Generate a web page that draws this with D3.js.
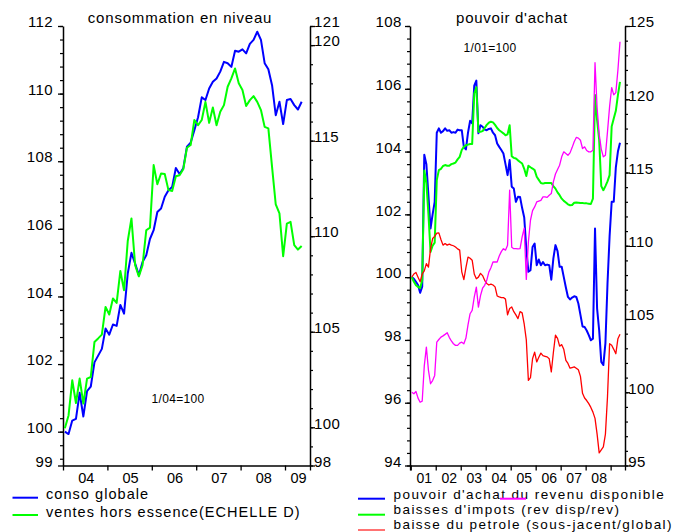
<!DOCTYPE html>
<html><head><meta charset="utf-8">
<script src="https://cdn.jsdelivr.net/npm/d3@7"></script>
<style>
body{margin:0;background:#fff;overflow:hidden;}
svg text{font-family:"Liberation Sans",Arial,sans-serif;fill:#000;}
</style></head><body>
<svg id="c" width="686" height="532"></svg>
<script>
// ---------- DATA ----------
// Left panel: monthly, Jan 2004 - May 2009
const leftStartYear = 2004;
const consoGlobale = [
 100.0, 99.93, 100.33, 100.38, 101.15, 100.45, 101.2, 101.33, 102.05, 102.25,
 102.45, 103.05, 102.87, 103.17, 103.13, 103.75, 103.49, 104.68, 105.29, 104.97,
 104.63, 105.02, 105.22, 105.7, 105.96, 106.5, 106.6, 106.95, 107.14, 107.24,
 107.8, 107.62, 107.79, 108.43, 108.55, 108.92, 109.3, 109.89, 109.81, 110.15,
 110.35, 110.45, 110.65, 110.94, 110.9, 110.79, 111.27, 111.24, 111.31, 111.19,
 111.47, 111.59, 111.83, 111.59, 110.9, 110.72, 110.25, 109.36, 109.76, 109.1,
 109.81, 109.84, 109.66, 109.53, 109.76];
const ventesHorsEssence = [
 99.95, 100.62, 102.46, 101.27, 102.55, 101.24, 102.55, 102.63, 104.46, 104.65,
 104.85, 106.3, 105.9, 106.74, 106.51, 108.18, 107.17, 109.75, 110.93, 108.48,
 107.9, 108.48, 110.31, 110.45, 113.72, 112.72, 113.28, 113.25, 112.41, 112.37,
 113.14, 113.19, 113.5, 114.63, 114.77, 116.08, 115.81, 116.08, 117.03, 115.93,
 116.74, 115.81, 116.51, 116.86, 117.82, 118.26, 118.78, 118.0, 117.65, 116.81,
 117.12, 117.33, 117.03, 116.6, 115.72, 115.64, 113.63, 111.66, 111.19, 108.95,
 110.66, 110.75, 109.53, 109.3, 109.49];

// Right panel: monthly, Jan 2001 - May 2009
const rightStartYear = 2001;
const pouvoirAchat = [
 100.0, 99.95, 99.85, 99.75, 99.5, 99.7, 103.9, 103.6, 102.6, 101.55,
 102.0, 102.4, 104.6, 104.74, 104.6, 104.65, 104.74, 104.66, 104.68, 104.6,
 104.62, 104.6, 104.7, 104.68, 104.68, 104.15, 104.07, 104.6, 104.98, 104.9,
 106.1, 106.26, 104.58, 104.84, 104.79, 104.7, 104.68, 104.72, 104.74, 104.6,
 104.52, 104.26, 104.15, 104.05, 103.94, 103.6, 103.25, 103.73, 102.88, 102.82,
 102.4, 102.56, 102.55, 102.2, 101.9, 100.91, 100.17, 100.22, 100.96, 101.07,
 100.38, 100.56, 100.38, 100.48, 100.38, 100.4, 100.38, 99.92, 100.6, 101.02,
 100.83, 100.33, 100.33, 100.0, 99.67, 99.37, 99.29, 99.35, 99.39, 99.37,
 99.16, 98.8, 98.43, 98.41, 98.3, 98.15, 97.99, 98.04, 101.55, 99.0,
 98.3, 97.3, 97.2, 97.9, 99.8, 101.3, 102.4, 102.4, 103.5, 104.0,
 104.28];
const baissesImpots = [
 100.0, 99.85, 99.74, 99.69, 99.65, 99.9, 103.4, 103.0, 102.0, 100.8,
 101.0, 101.1, 103.09, 103.41, 103.45, 103.54, 103.57, 103.55, 103.55, 103.6,
 103.62, 103.65, 103.75, 103.83, 104.05, 104.15, 104.2, 104.22, 104.24, 104.24,
 105.85, 106.05, 104.63, 104.63, 104.65, 104.75, 104.85, 104.92, 104.95, 104.93,
 104.85, 104.75, 104.68, 104.63, 104.58, 104.52, 104.55, 104.84, 103.85, 103.8,
 103.78, 103.72, 103.67, 103.62, 103.45, 103.22, 103.55, 103.5, 103.46, 103.41,
 103.2, 103.1, 103.0, 102.98, 103.0, 103.0, 103.0, 103.0, 102.9, 102.82,
 102.7, 102.61, 102.5, 102.43, 102.38, 102.32, 102.29, 102.3, 102.37, 102.38,
 102.37, 102.36, 102.36, 102.35, 102.35, 102.34, 102.33, 102.5, 105.8, 105.0,
 104.37, 102.9, 102.77, 102.9, 103.05, 103.25, 104.8, 105.05, 105.3, 105.8,
 106.22];
const baissePetrole = [
 100.0, 100.1, 100.15, 100.0, 99.85, 100.1, 100.2, 100.43, 100.32, 100.9,
 101.23, 101.3, 101.4, 101.41, 101.2, 101.02, 101.07, 101.02, 101.05, 101.02,
 101.0, 100.96, 100.9, 100.86, 100.17, 99.92, 100.3, 100.64, 100.6, 100.54,
 100.1, 99.95, 100.0, 100.12, 100.05, 99.9, 99.8, 99.75, 99.78, 99.75,
 99.69, 99.4, 99.37, 99.35, 99.35, 99.3, 98.8, 99.0, 99.05, 98.9,
 98.8, 98.68, 98.9, 98.86, 98.5, 98.0, 96.71, 96.8, 97.4, 97.61,
 97.3, 97.45, 97.58, 97.5, 97.48, 97.46, 97.4, 96.98, 97.6, 98.15,
 98.05, 97.8, 97.85, 97.7, 97.35, 97.25, 97.1, 97.12, 97.14, 97.1,
 97.05, 96.84, 96.3, 96.15, 96.07, 95.97, 95.85, 95.7, 95.5, 95.0,
 94.4, 94.5, 94.59, 95.0, 96.2, 97.88, 97.83, 97.7, 97.56, 98.04,
 98.18];
const revenuDisponible = [
 100.0, 99.9, 100.05, 99.6, 99.32, 99.39, 101.8, 103.08, 101.5, 100.58,
 100.8, 101.15, 103.42, 103.6, 103.76, 103.85, 103.95, 104.06, 103.75, 103.5,
 103.31, 103.2, 103.2, 103.35, 103.42, 103.31, 103.7, 104.6, 105.36, 105.59,
 106.5, 107.18, 105.81, 106.6, 107.1, 107.3, 107.64, 108.2, 108.5, 108.89,
 108.9, 108.89, 109.3, 109.6, 109.8, 109.7, 110.03, 113.79, 109.9, 109.8,
 109.8, 109.78, 109.8, 110.6, 111.2, 107.7, 110.26, 111.74, 112.4, 112.65,
 112.99, 113.05, 113.1, 113.33, 113.33, 113.3, 113.45, 113.56, 114.36, 114.9,
 115.2, 115.5, 116.07, 116.41, 116.3, 116.18, 116.34, 116.7, 117.1, 117.39,
 117.35, 117.2, 116.64, 116.75, 116.5, 116.41, 116.41, 116.52, 122.49, 119.4,
 117.6, 116.6, 116.07, 116.18, 117.8, 119.5, 120.8, 120.3, 120.45, 122.0,
 123.93];

// Tick labels
const leftYearLabels = ["04", "05", "06", "07", "08", "09"];
const rightYearLabels = ["01", "02", "03", "04", "05", "06", "07", "08"];
const leftLeftTicks = [112, 110, 108, 106, 104, 102, 100, 99];
const leftRightTicks = [121, 120, 115, 110, 105, 100, 98];
const rightLeftTicks = [108, 106, 104, 102, 100, 98, 96, 94];
const rightRightTicks = [125, 120, 115, 110, 105, 100, 95];

// ---------- DRAWING ----------
const FONT = "'Liberation Sans', Arial, sans-serif";
const svg = d3.select("#c");

const xL = d3.scaleLinear().domain([2004, 2009.563]).range([63, 310]);
const yLL = d3.scaleLinear().domain([99, 112]).range([465.5, 26]);
const yLR = d3.scaleLinear().domain([98, 121]).range([465.5, 26]);

const xR = d3.scaleLinear().domain([2000.97, 2009.575]).range([410, 625]);
const yRL = d3.scaleLinear().domain([94, 108]).range([465.5, 26]);
const yRR = d3.scaleLinear().domain([95, 125]).range([465.5, 26]);

function yAxis(scale, x, side, majors, minorStep, padding) {
  const mk = side === "left" ? d3.axisLeft : d3.axisRight;
  const [d0, d1] = scale.domain();
  const minors = [];
  for (let v = d1; v >= d0 - 1e-9; v -= minorStep) minors.push(+v.toFixed(4));
  const gm = svg.append("g").attr("transform", `translate(${x},0)`)
    .call(mk(scale).tickValues(minors).tickSize(3).tickSizeOuter(0).tickFormat(""));
  gm.select(".domain").remove();
  gm.selectAll("line").attr("stroke-width", 1.2);
  const g = svg.append("g").attr("transform", `translate(${x},0)`)
    .call(mk(scale).tickValues(majors).tickSize(5).tickSizeOuter(0).tickPadding(padding).tickFormat(d3.format("d")));
  g.attr("font-size", 15).attr("font-family", FONT);
  g.select(".domain").attr("stroke-width", 1.5);
  g.selectAll("line").attr("stroke-width", 1.3);
  g.selectAll("text").attr("dy", "0.05em").attr("letter-spacing", "0.4px");
}

function xAxis(scale, y, bounds, labelBounds, labels, fs) {
  const g = svg.append("g").attr("transform", `translate(0,${y})`)
    .call(d3.axisBottom(scale).tickValues(bounds).tickSize(5).tickSizeOuter(0).tickFormat(""));
  g.select(".domain").attr("stroke-width", 1.5);
  g.selectAll("line").attr("stroke-width", 1.3);
  const mids = d3.pairs(labelBounds).map(p => (p[0] + p[1]) / 2);
  svg.append("g").selectAll("text").data(labels).join("text")
    .attr("x", (d, i) => scale(mids[i]) + 1)
    .attr("y", 482.5)
    .attr("text-anchor", "middle")
    .attr("font-size", fs)
    .text(d => d);
}

function series(data, start, xs, ys, color, width) {
  const line = d3.line()
    .x((d, i) => xs(start + (i + 0.5) / 12))
    .y(d => ys(d));
  svg.append("path").datum(data)
    .attr("d", line).attr("fill", "none")
    .attr("stroke", color).attr("stroke-width", width)
    .attr("stroke-linejoin", "round");
}

// ---- Left panel ----
yAxis(yLL, 63, "left", leftLeftTicks, 0.4, 5);
yAxis(yLR, 310, "right", leftRightTicks, 1, -1);
const lb = d3.range(2004, 2010).concat([xL.domain()[1]]);
xAxis(xL, 465.5, lb, lb, leftYearLabels, 14.5);

series(consoGlobale, leftStartYear, xL, yLL, "#0000ff", 2);
series(ventesHorsEssence, leftStartYear, xL, yLR, "#00ff00", 2);

svg.append("text").attr("x", 180).attr("y", 23).attr("text-anchor", "middle")
  .attr("font-size", 15).attr("letter-spacing", "0.8px").text("consommation en niveau");
svg.append("text").attr("x", 178).attr("y", 402.5).attr("text-anchor", "middle")
  .attr("font-size", 12).attr("letter-spacing", "0.3px").text("1/04=100");

// ---- Right panel ----
yAxis(yRL, 410, "left", rightLeftTicks, 0.4, 3.3);
yAxis(yRR, 625, "right", rightRightTicks, 1, -1.7);
const rb = d3.range(2001, 2010);
xAxis(xR, 465.5, [xR.domain()[0]].concat(rb, [xR.domain()[1]]), rb, rightYearLabels, 14);

series(pouvoirAchat, rightStartYear, xR, yRL, "#0000ff", 2);
series(baissesImpots, rightStartYear, xR, yRL, "#00ff00", 2);
series(baissePetrole, rightStartYear, xR, yRL, "#ff0000", 1.3);
series(revenuDisponible, rightStartYear, xR, yRR, "#ff00ff", 1.3);

svg.append("text").attr("x", 512).attr("y", 22.5).attr("text-anchor", "middle")
  .attr("font-size", 15).attr("letter-spacing", "0.7px").text("pouvoir d'achat");
svg.append("text").attr("x", 490).attr("y", 51.5).attr("text-anchor", "middle")
  .attr("font-size", 12).attr("letter-spacing", "0.3px").text("1/01=100");

// ---- Legends ----
function legendItem(x1, x2, ly, color, tx, ty, label, fs, ls, opacity) {
  svg.append("line").attr("x1", x1).attr("x2", x2).attr("y1", ly).attr("y2", ly)
    .attr("stroke", color).attr("stroke-width", 2).attr("stroke-opacity", opacity || 1);
  if (label) svg.append("text").attr("x", tx).attr("y", ty)
    .attr("font-size", fs).attr("letter-spacing", ls + "px").text(label);
}
legendItem(12.5, 38, 497.7, "#0000ff", 46, 499, "conso globale", 14.5, 1.05);
legendItem(12.5, 38, 515, "#00ff00", 46, 516.5, "ventes hors essence(ECHELLE D)", 14.5, 1.05);

legendItem(358, 385, 498.7, "#0000ff", 393.5, 498.5, "pouvoir d'achat du revenu disponible", 13.5, 1.45);
legendItem(500, 526, 498.7, "#ff00ff", 0, 0, null);
legendItem(358, 385, 514.7, "#00ff00", 393.5, 513.7, "baisses d'impots (rev disp/rev)", 13.5, 1.45);
legendItem(358, 385, 530, "#ff0000", 393.5, 528.9, "baisse du petrole (sous-jacent/global)", 13.5, 1.45, 0.55);
</script>
</body></html>
